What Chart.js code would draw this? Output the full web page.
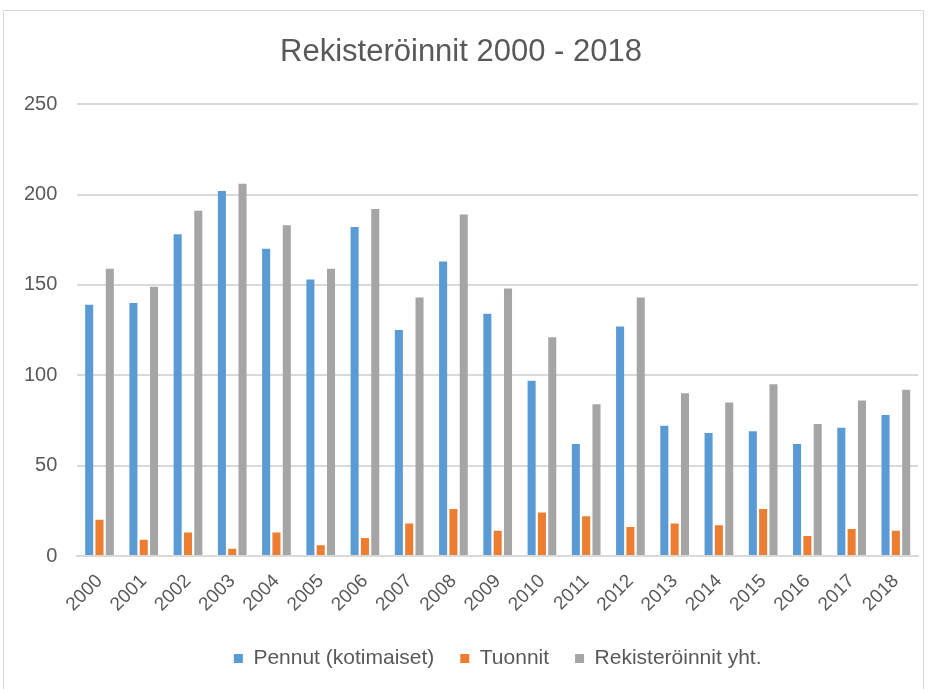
<!DOCTYPE html>
<html lang="fi">
<head>
    <meta charset="UTF-8">
    <title>Rekisteröinnit 2000 - 2018</title>
    <script src="https://cdn.jsdelivr.net/npm/chart.js"></script>
    <style>
        body {
            margin: 0;
            background-color: white;
            font-family: "Liberation Sans", Arial, sans-serif;
        }
        .frame {
            position: absolute;
            left: 3px;
            top: 10px;
            width: 921px;
            height: 700px;
            border: 1px solid #d9d9d9;
            box-sizing: border-box;
        }
        .chart-container {
            position: absolute;
            left: 0;
            top: 0;
            width: 933px;
            height: 689px;
        }
    </style>
</head>
<body>
    <div class="frame"></div>
    <div class="chart-container">
        <canvas id="chart"></canvas>
    </div>

    <script>
        // Data
        const years = ['2000', '2001', '2002', '2003', '2004', '2005', '2006', '2007', '2008', '2009',
                       '2010', '2011', '2012', '2013', '2014', '2015', '2016', '2017', '2018'];
        const pennut = [139, 140, 178, 202, 170, 153, 182, 125, 163, 134, 97, 62, 127, 72, 68, 69, 62, 71, 78];
        const tuonnit = [20, 9, 13, 4, 13, 6, 10, 18, 26, 14, 24, 22, 16, 18, 17, 26, 11, 15, 14];
        const yhteensa = [159, 149, 191, 206, 183, 159, 192, 143, 189, 148, 121, 84, 143, 90, 85, 95, 73, 86, 92];

        const textColor = '#595959';
        const gridColor = '#d9d9d9';
        const fontFamily = '"Liberation Sans", Arial, sans-serif';

        const ctx = document.getElementById('chart').getContext('2d');
        new Chart(ctx, {
            type: 'bar',
            data: {
                labels: years,
                datasets: [
                    { label: 'Pennut (kotimaiset)', data: pennut, backgroundColor: '#5b9bd5' },
                    { label: 'Tuonnit', data: tuonnit, backgroundColor: '#ed7d31' },
                    { label: 'Rekisteröinnit yht.', data: yhteensa, backgroundColor: '#a5a5a5' }
                ]
            },
            options: {
                responsive: true,
                maintainAspectRatio: false,
                animation: false,
                datasets: {
                    bar: {
                        categoryPercentage: 0.7,
                        barPercentage: 0.78
                    }
                },
                layout: {
                    padding: { left: 4, right: 15, top: 34, bottom: 10 }
                },
                plugins: {
                    title: {
                        display: true,
                        text: 'Rekisteröinnit 2000 - 2018',
                        color: textColor,
                        font: { family: fontFamily, size: 31, weight: 'normal' },
                        padding: { top: 0, bottom: 33 }
                    },
                    legend: {
                        position: 'bottom',
                        fullSize: false,
                        labels: {
                            color: textColor,
                            font: { family: fontFamily, size: 21 },
                            boxWidth: 9,
                            boxHeight: 9,
                            padding: 26
                        }
                    },
                    tooltip: { enabled: false }
                },
                scales: {
                    x: {
                        grid: { display: false },
                        border: { color: gridColor, width: 2 },
                        ticks: {
                            color: textColor,
                            font: { family: fontFamily, size: 19 },
                            minRotation: 45,
                            maxRotation: 45,
                            padding: 6
                        }
                    },
                    y: {
                        min: 0,
                        max: 250,
                        grid: { color: gridColor, lineWidth: 2, drawTicks: false },
                        border: { display: false },
                        ticks: {
                            stepSize: 50,
                            color: textColor,
                            font: { family: fontFamily, size: 20 },
                            padding: 20
                        }
                    }
                }
            }
        });
    </script>
</body>
</html>
